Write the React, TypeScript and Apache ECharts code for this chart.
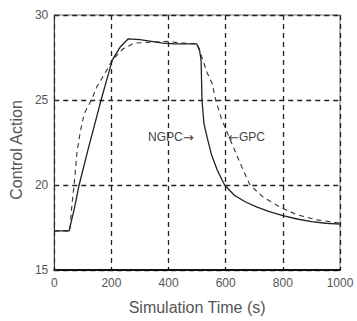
import React, { useEffect, useRef } from "react";
import * as echarts from "echarts";

const xTicks = [0, 200, 400, 600, 800, 1000];
const yTicks = [15, 20, 25, 30];

const ngpc: [number, number][] = [
  [0, 17.3], [52, 17.3], [70, 18.6], [87, 20], [120, 22.2], [164, 25], [203, 27.35],
  [230, 28.1], [259, 28.6], [300, 28.55], [340, 28.45], [380, 28.35], [420, 28.3], [498, 28.3],
  [508, 28.0], [514, 27.3], [517, 25], [524, 23.6], [535, 22.8], [550, 21.8], [570, 20.9], [596, 20],
  [630, 19.4], [670, 19.0], [710, 18.7], [750, 18.45], [800, 18.2], [850, 18.0], [900, 17.85],
  [950, 17.75], [1000, 17.7],
];

const gpc: [number, number][] = [
  [0, 17.3], [55, 17.3], [60, 18.5], [70, 20.1], [80, 22.0], [92, 23.2], [105, 24.2],
  [130, 25], [150, 25.8], [175, 26.5], [203, 27.35], [240, 28.0], [280, 28.35], [340, 28.4],
  [400, 28.45], [440, 28.35], [500, 28.3], [508, 27.9], [517, 27.5], [535, 26.6], [552, 26.0],
  [565, 25], [585, 23.9], [615, 22.7], [650, 21.3], [685, 20], [730, 19.3], [790, 18.7],
  [850, 18.25], [920, 17.95], [1000, 17.75],
];

const labels = [
  { name: "NGPC", arrowBefore: false, x: 148, y: 137 },
  { name: "GPC", arrowBefore: true, x: 228, y: 137 },
];

export default function App() {
  const ref = useRef<HTMLDivElement>(null);
  useEffect(() => {
    if (!ref.current) return;
    const chart = echarts.init(ref.current, undefined, { renderer: "svg" });
    const font = "Liberation Sans, Arial, sans-serif";
    const grid = { type: [5, 4] as number[], color: "#222", width: 1.3 };
    chart.setOption({
      animation: false,
      backgroundColor: "#fff",
      grid: { left: 54, right: 17, top: 15, bottom: 51, show: true, borderColor: "#777", borderWidth: 1 },
      xAxis: {
        type: "value",
        min: xTicks[0],
        max: xTicks[xTicks.length - 1],
        interval: 200,
        name: "Simulation Time (s)",
        nameLocation: "middle",
        nameGap: 29,
        nameTextStyle: { fontSize: 16, color: "#555", fontFamily: font },
        axisLine: { show: true, lineStyle: { color: "#111", width: 2 } },
        axisTick: { show: true, inside: true, length: 3, lineStyle: { color: "#111" } },
        axisLabel: { fontSize: 12, color: "#555", margin: 7, fontFamily: font, formatter: (v: number) => String(v) },
        splitLine: { show: true, lineStyle: grid },
      },
      yAxis: {
        type: "value",
        min: yTicks[0],
        max: yTicks[yTicks.length - 1],
        interval: 5,
        name: "Control Action",
        nameLocation: "middle",
        nameGap: 29,
        nameTextStyle: { fontSize: 16, color: "#555", fontFamily: font, padding: [0, 15, 0, 0] },
        axisLine: { show: true, lineStyle: { color: "#333", width: 1 } },
        axisTick: { show: true, inside: true, length: 3, lineStyle: { color: "#333" } },
        axisLabel: { fontSize: 12, color: "#555", margin: 6, fontFamily: font },
        splitLine: { show: true, lineStyle: grid },
      },
      series: [
        {
          name: "NGPC",
          type: "line",
          data: ngpc,
          showSymbol: false,
          lineStyle: { color: "#222", width: 1.3 },
          z: 3,
        },
        {
          name: "GPC",
          type: "line",
          data: gpc,
          showSymbol: false,
          lineStyle: { color: "#333", width: 1.1, type: [5, 4] },
          z: 2,
        },
      ],
      graphic: labels.map((l) => ({
        type: "text",
        x: l.x,
        y: l.y,
        style: {
          text: l.arrowBefore ? `{b|\u2190}{a|${l.name}}` : `{a|${l.name}}{b|\u2192}`,
          verticalAlign: "middle",
          rich: {
            a: { fontSize: 12, fill: "#444", color: "#444", fontFamily: font },
            b: { fontSize: 13, fill: "#444", color: "#444", fontFamily: "DejaVu Sans" },
          },
        },
        z: 10,
      })),
    });
    return () => chart.dispose();
  }, []);
  return <div ref={ref} style={{ width: 357, height: 321, position: "absolute", left: 0, top: 0 }} />;
}
